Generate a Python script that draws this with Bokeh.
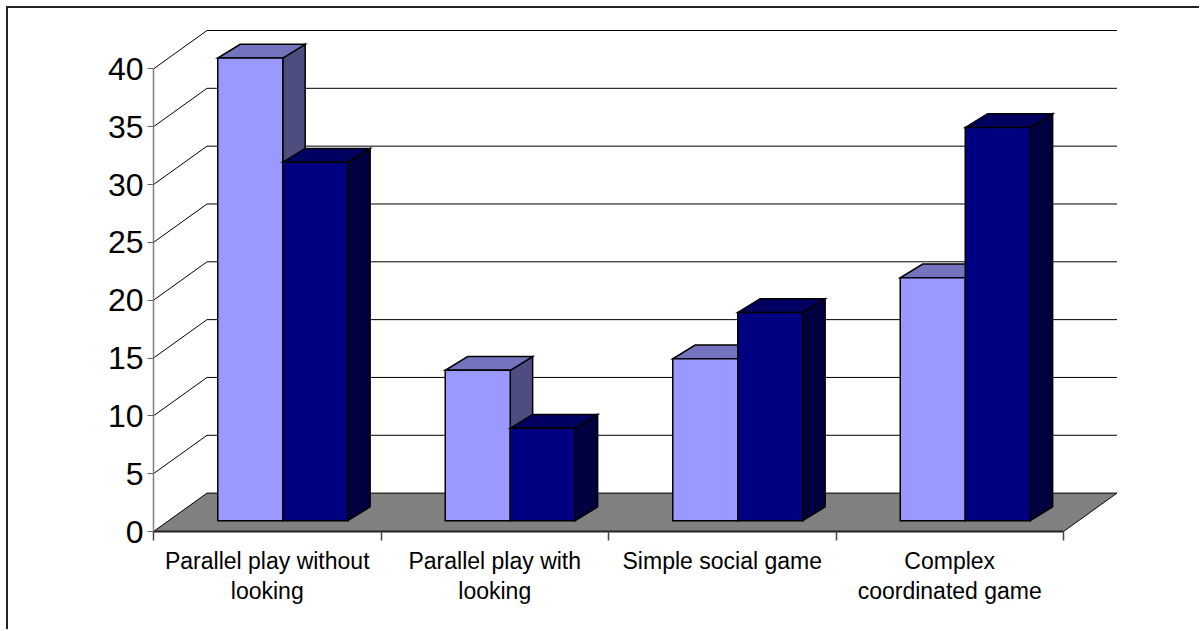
from bokeh.plotting import figure
from bokeh.models import Range1d, LinearAxis, FixedTicker, ColumnDataSource
from bokeh.embed import file_html
from bokeh.resources import INLINE

# ---- data ----
categories = ["Parallel play without\nlooking", "Parallel play with\nlooking",
              "Simple social game", "Complex\ncoordinated game"]
series_light = [40, 13, 14, 21]
series_dark = [31, 8, 18, 34]
y_ticks = [0, 5, 10, 15, 20, 25, 30, 35, 40]

# ---- colours ----
light_faces = {"front": "#9999FF", "top": "#7373BF", "side": "#4D4D80"}
dark_faces = {"front": "#000080", "top": "#000060", "side": "#000040"}

# ---- geometry (pixels -> data units) ----
OFF = 8                       # outer margin + border
W, H = 1201 - OFF, 631 - OFF
B_LEFT, B_RIGHT, B_TOP, B_BOTTOM = 153 - OFF, 11, 12 - OFF, 100
PX_X = 227.5      # px per category unit
PX_Y = 11.565     # px per value unit
frame_w = W - B_LEFT - B_RIGHT
frame_h = H - B_TOP - B_BOTTOM

WDX, WDY = 53.5 / PX_X, 38.4 / PX_Y      # wall depth
BOX, BOY = 15.5 / PX_X, 10.8 / PX_Y      # bar front plane offset
BW = 65.0 / PX_X                         # bar width
BDX, BDY = 22.4 / PX_X, 13.8 / PX_Y      # bar depth

n = len(categories)

p = figure(width=W, height=H,
           x_range=Range1d(0, frame_w / PX_X), y_range=Range1d(0, frame_h / PX_Y),
           output_backend="svg", toolbar_location=None,
           min_border_left=B_LEFT, min_border_right=B_RIGHT,
           min_border_top=B_TOP, min_border_bottom=B_BOTTOM,
           x_axis_type=None, y_axis_type=None)
p.outline_line_color = None
p.background_fill_color = "white"
p.border_fill_color = "white"
p.margin = (6, 0, 0, 6)
p.styles = {"border-top": "2px solid #222222", "border-left": "2px solid #222222"}

# ---- back wall gridlines ----
gt = y_ticks[1:]
p.segment(x0=[0] * len(gt), y0=gt, x1=[WDX] * len(gt), y1=[t + WDY for t in gt],
          line_color="black", line_width=1)
p.segment(x0=[WDX] * len(gt), y0=[t + WDY for t in gt], x1=[n + WDX] * len(gt),
          y1=[t + WDY for t in gt], line_color="black", line_width=1)

# ---- floor ----
p.patch([0, WDX, n + WDX, n], [0, WDY, WDY, 0], fill_color="#808080",
        line_color="black", line_width=1)

# ---- bars ----
xs, ys, cols = [], [], []
for i in range(n):
    c = i + 0.5 + BOX
    for x0, v, faces in ((c - BW, series_light[i], light_faces), (c, series_dark[i], dark_faces)):
        x1 = x0 + BW
        y0 = BOY
        yt = BOY + v
        xs.append([x1, x1 + BDX, x1 + BDX, x1]); ys.append([y0, y0 + BDY, yt + BDY, yt]); cols.append(faces["side"])
        xs.append([x0, x1, x1 + BDX, x0 + BDX]); ys.append([yt, yt, yt + BDY, yt + BDY]); cols.append(faces["top"])
        xs.append([x0, x1, x1, x0]); ys.append([y0, y0, yt, yt]); cols.append(faces["front"])

src = ColumnDataSource(dict(xs=xs, ys=ys, color=cols))
p.patches("xs", "ys", source=src, fill_color="color", line_color="black",
          line_width=1.5, line_join="miter")

# ---- axes ----
yaxis = LinearAxis(ticker=FixedTicker(ticks=y_ticks), bounds=(0, 40))
yaxis.axis_line_color = "#808080"
yaxis.axis_line_width = 1.5
yaxis.major_tick_out = 6
yaxis.major_tick_in = 0
yaxis.major_tick_line_color = "#606060"
yaxis.minor_tick_line_color = None
yaxis.major_label_text_font = "Liberation Sans"
yaxis.major_label_text_font_size = "32px"
yaxis.major_label_text_color = "black"
yaxis.major_label_standoff = 4
p.add_layout(yaxis, "left")

centers = [i + 0.5 for i in range(n)]
xaxis = LinearAxis(ticker=FixedTicker(ticks=centers, minor_ticks=list(range(n + 1))),
                   bounds=(0, n),
                   major_label_overrides={c: lab for c, lab in zip(centers, categories)})
xaxis.axis_line_color = "#222222"
xaxis.axis_line_width = 2
xaxis.major_tick_line_color = None
xaxis.major_tick_out = 0
xaxis.major_tick_in = 0
xaxis.minor_tick_out = 9
xaxis.minor_tick_in = 0
xaxis.minor_tick_line_color = "#444444"
xaxis.minor_tick_line_width = 1.5
xaxis.major_label_text_font = "Liberation Sans"
xaxis.major_label_text_font_size = "23px"
xaxis.major_label_text_color = "black"
xaxis.major_label_text_line_height = 1.17
xaxis.major_label_standoff = 7
p.add_layout(xaxis, "below")

open("out.html", "w").write(file_html(p, INLINE))
